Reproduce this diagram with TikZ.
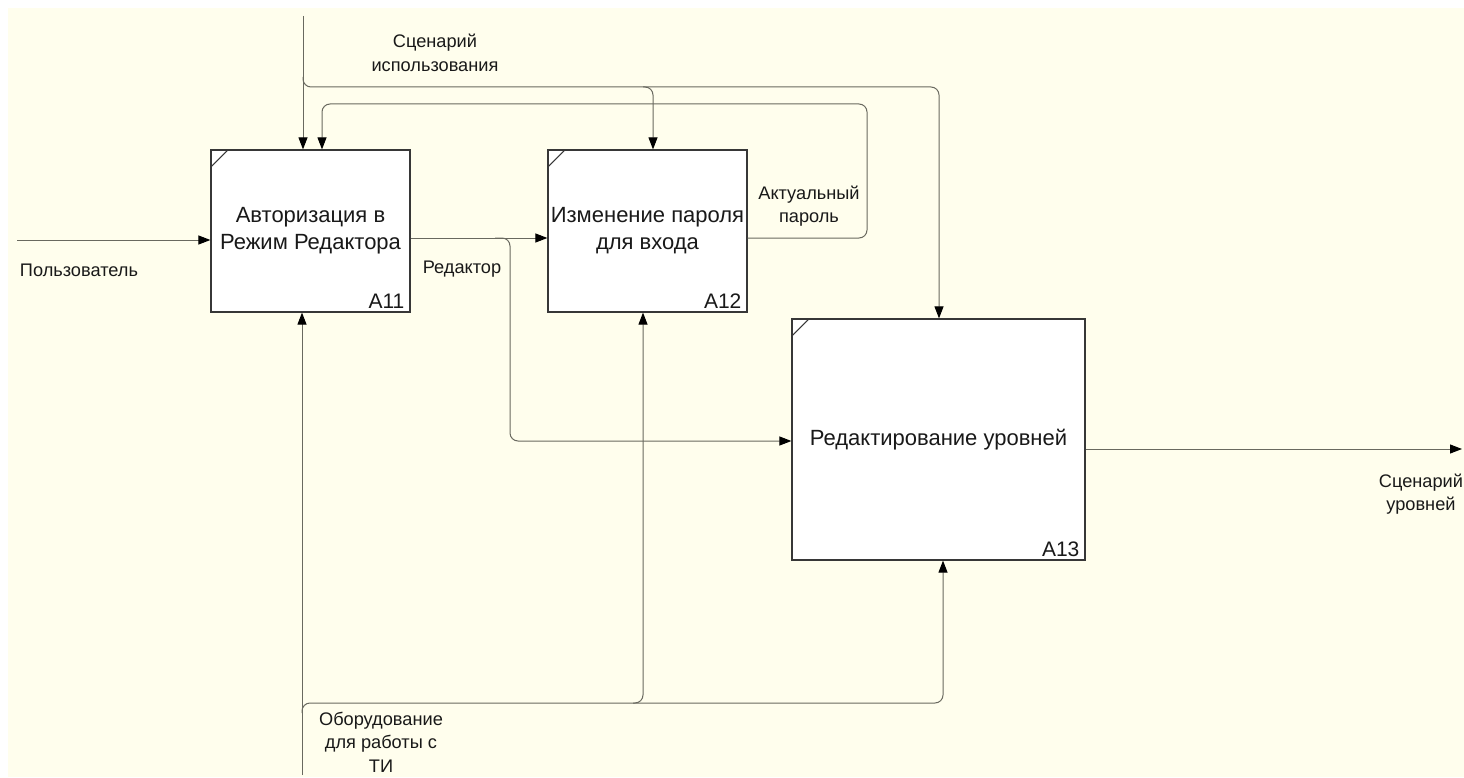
\documentclass[tikz,border=0pt]{standalone}
\usepackage{fontspec}
\setmainfont{Liberation Sans}
\usetikzlibrary{arrows.meta}
\definecolor{bg}{RGB}{255,254,237}
\definecolor{ln}{RGB}{105,105,95}
\definecolor{tx}{RGB}{25,25,25}
\definecolor{boxc}{RGB}{55,55,55}
\newcommand\boxfont{\fontsize{22}{27}\selectfont}
\newcommand\numfont{\fontsize{21}{27}\selectfont}
\newcommand\lblfont{\fontsize{18.2}{23.5}\selectfont}
\tikzset{
  funcbox/.style={draw=boxc,line width=1.2pt,fill=white,inner sep=0pt,align=center,font=\boxfont,text=tx},
  conn/.style={draw=ln,line width=1pt},
  arr/.style={conn,-{Triangle[length=12pt,width=9pt,color=black]}},
  rc/.style={rounded corners=8pt},
  lbl/.style={align=center,font=\lblfont,text=tx,inner sep=0pt},
  num/.style={font=\numfont,text=tx,inner sep=0pt,anchor=south east},
  corner/.style={draw=boxc,line width=1pt},
}
\begin{document}
\begin{tikzpicture}[x=1pt,y=-1pt]
\useasboundingbox (0,0) rectangle (1464,778);
\fill[bg] (8,8) rectangle (1464,777);

% boxes
\node[funcbox,minimum width=199pt,minimum height=162pt] (A11) at (310.5,231) {Авторизация в\\Режим Редактора};
\node[funcbox,minimum width=199pt,minimum height=162pt] (A12) at (647.5,231) {Изменение пароля\\для входа};
\node[funcbox,minimum width=293pt,minimum height=241pt] (A13) at (938.5,439.5) {Редактирование уровней};

\foreach \b in {A11,A12,A13}{
  \draw[corner] ([yshift=-18pt]\b.north west) -- ([xshift=18pt]\b.north west);
}
\node[num] (nA11) at ([xshift=-6pt,yshift=4pt]A11.south east) {A11};
\node[num] (nA12) at ([xshift=-6pt,yshift=4pt]A12.south east) {A12};
\node[num] (nA13) at ([xshift=-6pt,yshift=4pt]A13.south east) {A13};

% coordinates
\coordinate (userin) at (17,240);
\coordinate (br0) at (495,238);
\coordinate (br1) at (510,441);
\coordinate (ctop) at (303,16);
\coordinate (c1) at (303,87);
\coordinate (c2) at (653,87);
\coordinate (c3) at (939,87);
\coordinate (f1) at (867,104);
\coordinate (f2) at (322,104);
\coordinate (mbot) at (302,775);
\coordinate (m1) at (302,703);
\coordinate (m2) at (643,703);
\coordinate (m3) at (943,703);
\coordinate (out) at (1462,449);

% input
\draw[arr] (userin) -- (userin -| A11.west);
% A11 output
\draw[arr] ([yshift=-7pt]A11.east) -- ([yshift=-7pt]A12.west);
\draw[arr,rc] (br0) -| (br1) -- (br1 -| A13.west);
% control
\draw[arr] (ctop) -- (ctop |- A11.north);
\draw[arr,rc] ([yshift=10pt]c1) -- (c1) -- (c3) -- (c3 |- A13.north);
\draw[arr,rc] ([xshift=-10pt]c2) -- (c2) -- (c2 |- A12.north);
% feedback
\draw[arr,rc] ([yshift=-7pt]A12.east) -| (f1) -- (f2) -- (f2 |- A11.north);
% mechanism
\draw[arr] (mbot) -- (mbot |- A11.south);
\draw[arr,rc] ([yshift=-10pt]m1) -- (m1) -- (m3) -- (m3 |- A13.south);
\draw[arr,rc] ([xshift=-10pt]m2) -- (m2) -- (m2 |- A12.south);
% output
\draw[arr] (A13.east |- out) -- (out);

% labels
\node[lbl] (lUser) at (79,270) {Пользователь};
\node[lbl] (lRed) at (462,269) {Редактор};
\node[lbl] (lScen) at (435,53) {Сценарий\\использования};
\node[lbl] (lAkt) at (809,206) {Актуальный\\пароль};
\node[lbl] (lMech) at (381,742) {Оборудование\\для работы с\\ТИ};
\node[lbl] (lOut) at (1421,494) {Сценарий\\уровней};
\end{tikzpicture}
\end{document}
